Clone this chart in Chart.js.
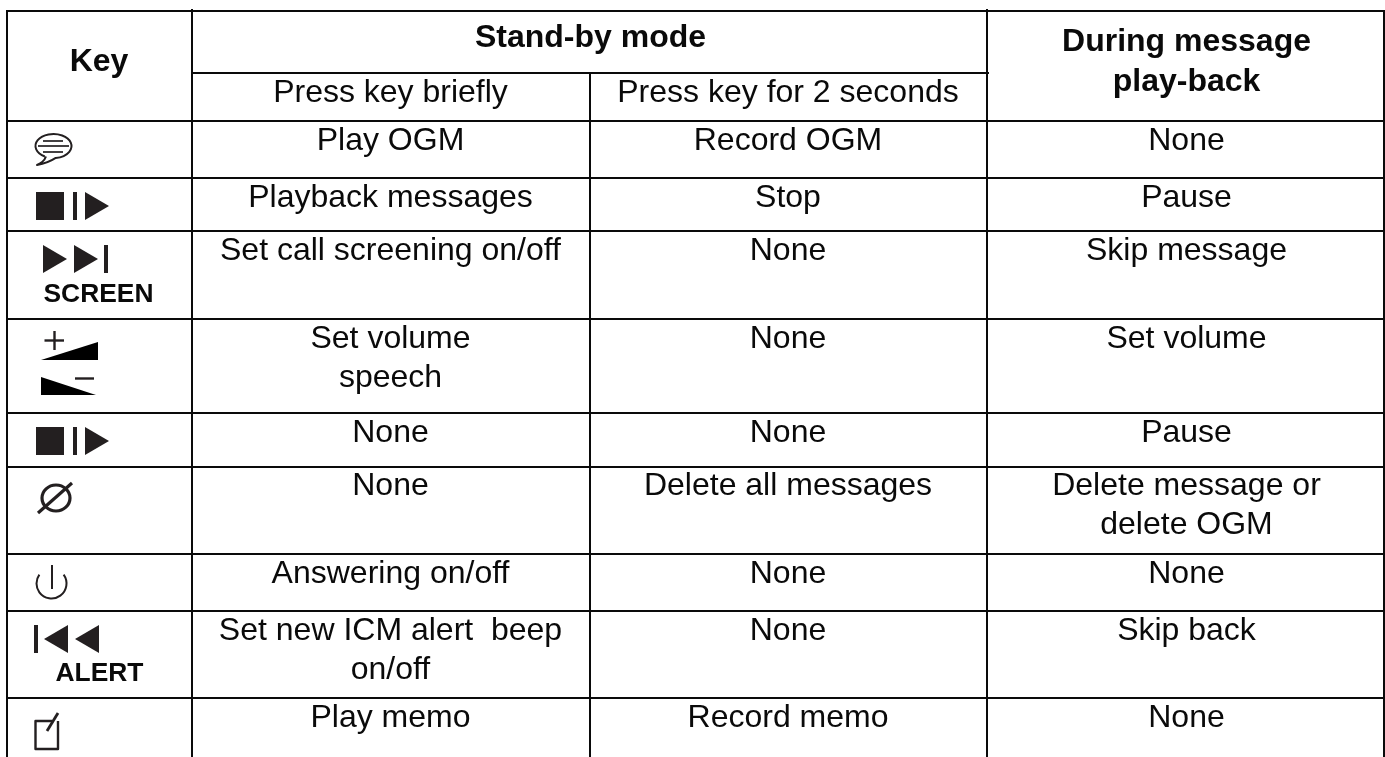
<!DOCTYPE html>
<html><head><meta charset="utf-8">
<style>html,body{margin:0;padding:0;background:#fff;overflow:hidden}canvas{display:block}</style>
<script src="https://cdn.jsdelivr.net/npm/chart.js@4"></script>
</head><body><canvas id="c" width="1385" height="757"></canvas>
<script>
const standbyHeader = "Stand-by mode";
const keyHeader = "Key";
const playbackHeader = ["During message", "play-back"];
const subHeaders = ["Press key briefly", "Press key for 2 seconds"];
const briefly = ["Play OGM", "Playback messages", "Set call screening on/off", ["Set volume", "speech"], "None", "None", "Answering on/off", ["Set new ICM alert  beep", "on/off"], "Play memo"];
const twoSeconds = ["Record OGM", "Stop", "None", "None", "None", "Delete all messages", "None", "None", "Record memo"];
const duringPlayback = ["None", "Pause", "Skip message", "Set volume", "Pause", ["Delete message or", "delete OGM"], "None", "Skip back", "None"];

const W = 1385, H = 757;
const colEdges = [7, 192, 590, 987, 1384];
const colTops = [10, 9, 73, 9, 10];
const rowEdges = [11, 121, 178, 231, 319, 413, 467, 554, 611, 698];
const subRule = {y: 73, x0: 192, x1: 989};
const colCentres = [99, 390.5, 788, 1186.5];
const rowBaselines = [150, 207, 260, 348, 442, 495, 583, 640, 727];
const LINE = 39;

const ruleSets = [];
colEdges.forEach((x, i) => ruleSets.push([{x, y: colTops[i]}, {x, y: H}]));
rowEdges.forEach(y => ruleSets.push([{x: colEdges[0], y}, {x: colEdges[4], y}]));
ruleSets.push([{x: subRule.x0, y: subRule.y}, {x: subRule.x1, y: subRule.y}]);

const textItems = [];
function add(x, y, t, font) {
  textItems.push({x, y, t, font});
}
const REG = '32px "Liberation Sans"', BOLD = 'bold 32px "Liberation Sans"', SMALL = 'bold 26.4px "Liberation Sans"';
add(colCentres[0], 71, keyHeader, BOLD);
add(590.5, 47, standbyHeader, BOLD);
add(colCentres[3], 51, playbackHeader[0], BOLD);
add(colCentres[3], 91, playbackHeader[1], BOLD);
add(colCentres[1], 102, subHeaders[0], REG);
add(colCentres[2], 102, subHeaders[1], REG);
[briefly, twoSeconds, duringPlayback].forEach((col, c) => col.forEach((v, r) => {
  [].concat(v).forEach((s, k) => add(colCentres[c + 1], rowBaselines[r] + k * LINE, s, REG));
}));
add(98.5, 302, "SCREEN", SMALL);
add(99.5, 681, "ALERT", SMALL);

const datasets = ruleSets.map(data => ({type: 'line', data, borderColor: '#0a0a0a', borderWidth: 2, pointRadius: 0, fill: false, tension: 0, borderCapStyle: 'butt'}));
datasets.push({type: 'scatter', label: 'text', data: textItems.map(d => ({x: d.x, y: d.y})), pointRadius: 0});

const drawKit = {
  id: 'drawKit',
  afterDatasetsDraw(chart) {
    const ctx = chart.ctx, X = v => chart.scales.x.getPixelForValue(v), Y = v => chart.scales.y.getPixelForValue(v);
    const meta = chart.getDatasetMeta(chart.data.datasets.length - 1);
    ctx.save();
    ctx.lineJoin = 'round';
    ctx.fillStyle = '#0a0a0a'; ctx.textAlign = 'center'; ctx.textBaseline = 'alphabetic';
    meta.data.forEach((el, i) => { ctx.font = textItems[i].font; ctx.fillText(textItems[i].t, el.x, el.y); });

    const ink = '#231f20';
    const poly = (pts, col) => { ctx.fillStyle = col || ink; ctx.beginPath(); pts.forEach((p, i) => i ? ctx.lineTo(X(p[0]), Y(p[1])) : ctx.moveTo(X(p[0]), Y(p[1]))); ctx.closePath(); ctx.fill(); };
    const rect = (x0, y0, x1, y1, col) => poly([[x0, y0], [x1, y0], [x1, y1], [x0, y1]], col);
    const stopPlay = y => { rect(36, y, 64, y + 28); rect(73, y, 77, y + 28); poly([[85, y], [109, y + 14], [85, y + 28]]); };
    stopPlay(192); stopPlay(427);
    // skip forward
    poly([[43, 245], [67, 259], [43, 273]]); poly([[74, 245], [98, 259], [74, 273]]); rect(104, 245, 108, 273);
    // skip back
    rect(34, 625, 38, 653); poly([[68, 625], [44, 639], [68, 653]]); poly([[99, 625], [75, 639], [99, 653]]);
    // volume
    ctx.strokeStyle = ink; ctx.lineWidth = 2.4;
    const seg = (a, b, c, d) => { ctx.beginPath(); ctx.moveTo(X(a), Y(b)); ctx.lineTo(X(c), Y(d)); ctx.stroke(); };
    seg(44.5, 340.5, 64, 340.5); seg(54.5, 331, 54.5, 350);
    poly([[41, 360], [98, 342], [98, 360]], '#000');
    poly([[41, 377], [41, 395], [96, 395]], '#000');
    seg(75, 378.5, 94, 378.5);
    // speech bubble
    ctx.lineWidth = 2;
    ctx.beginPath();
    ctx.ellipse(X(53.5), Y(146), 18, 12, 0, 0.66 * Math.PI, 0.46 * Math.PI);
    ctx.quadraticCurveTo(X(48), Y(163), X(37), Y(165));
    ctx.quadraticCurveTo(X(44), Y(162), X(46), Y(156.5));
    ctx.stroke();
    ctx.lineWidth = 1.7;
    seg(43, 141, 63, 141); seg(38, 146, 69, 146); seg(43, 152, 63, 152);
    // delete symbol
    ctx.lineWidth = 3.2;
    ctx.beginPath(); ctx.ellipse(X(56), Y(498), 14, 13, 0, 0, 2 * Math.PI); ctx.stroke();
    seg(38, 513, 72, 483);
    // power
    ctx.lineWidth = 2;
    ctx.beginPath(); ctx.arc(X(51.5), Y(583.5), 15, -0.2 * Math.PI, 1.2 * Math.PI); ctx.stroke();
    seg(52, 565, 52, 589);
    // memo
    ctx.lineWidth = 2.4;
    ctx.beginPath(); ctx.moveTo(X(52), Y(721)); ctx.lineTo(X(35.5), Y(721)); ctx.lineTo(X(35.5), Y(749)); ctx.lineTo(X(58), Y(749)); ctx.lineTo(X(58), Y(721)); ctx.stroke();
    ctx.lineWidth = 2.8; seg(47, 731, 58, 713);
    ctx.restore();
  }
};

new Chart(document.getElementById('c'), {
  type: 'scatter',
  data: {datasets},
  options: {
    responsive: false, animation: false, events: [],
    layout: {padding: 0},
    plugins: {legend: {display: false}, tooltip: {enabled: false}, title: {display: false}},
    scales: {
      x: {type: 'linear', min: 0, max: W, display: false},
      y: {type: 'linear', min: 0, max: H, reverse: true, display: false}
    },
    elements: {line: {capBezierPoints: false}}
  },
  plugins: [drawKit]
});
</script></body></html>
